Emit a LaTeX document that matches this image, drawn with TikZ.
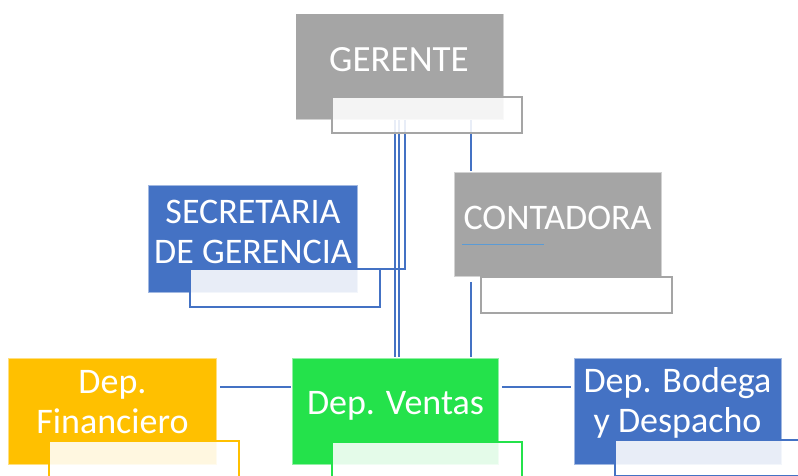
\documentclass[tikz,border=0pt]{standalone}
\usepackage{fontspec}
\setmainfont{Carlito}
\usetikzlibrary{positioning}
\definecolor{gris}{HTML}{A5A5A5}
\definecolor{azul}{HTML}{4472C4}
\definecolor{amarillo}{HTML}{FFC000}
\definecolor{verde}{RGB}{36,226,75}
\definecolor{celeste}{HTML}{5B9BD5}
\tikzset{
	caja/.style={fill=#1, draw=white, draw opacity=0.5, line width=1.5pt, inner sep=0pt},
	subcaja/.style={draw=#1, line width=2.5pt, fill=white, fill opacity=0.88, minimum width=190pt, minimum height=36pt, inner sep=0pt},
	rotulo/.style={text=white, align=center, inner sep=0pt, font=\fontsize{36}{40}\selectfont},
	enlace/.style={draw=azul, line width=2.5pt}
}

\begin{document}
\begin{tikzpicture}[x=1pt, y=-1pt]
		%%%%% START %%%%%
		\useasboundingbox (0, 0) rectangle (798, 475);
		\clip (0, 0) rectangle (798, 475);
		
		% cajas principales
		\node[caja=gris, minimum width=208pt, minimum height=106pt] (gerente) at (399.5, 66.5) {};
		\node[caja=azul, minimum width=210pt, minimum height=108pt] (secretaria) at (253, 239) {};
		\node[caja=gris, minimum width=208pt, minimum height=105pt] (contadora) at (558, 224.5) {};
		\node[caja=amarillo, minimum width=209pt, minimum height=107pt] (financiero) at (112.5, 411.5) {};
		\node[caja=verde, minimum width=207pt, minimum height=107pt] (ventas) at (395.5, 411.5) {};
		\node[caja=azul, minimum width=208pt, minimum height=107pt] (bodega) at (678, 411.5) {};
		
		\node[rotulo, font=\fontsize{37}{40}\selectfont] (gerente-rot) at (399, 60) {GERENTE};
		\node[rotulo] (secretaria-rot) at (253, 232) {SECRETARIA\\DE GERENCIA};
		\node[rotulo] (contadora-rot) at (557.5, 217.5) {CONTADORA};
		\node[rotulo] (financiero-rot) at (112.5, 402) {Dep.\\Financiero};
		\node[rotulo] (ventas-rot) at (395.5, 406) {Dep. Ventas};
		\node[rotulo] (bodega-rot) at (677.5, 403) {Dep. Bodega\\y Despacho};
		
		\draw[celeste, line width=1pt] (462, 244) -- (544, 244);
		
		% enlaces
		\draw[enlace] ([xshift=-4.5pt]gerente.south) -- ([xshift=-4.5pt]gerente.south |- ventas.north);
		\draw[enlace] ([xshift=-0.5pt]gerente.south) -- ([xshift=-0.5pt]gerente.south |- ventas.north);
		\draw[enlace] ([xshift=5.5pt]gerente.south) |- ([yshift=-30pt]secretaria.east);
		\draw[enlace] ([xshift=71.5pt]gerente.south) -- ([xshift=71.5pt]gerente.south |- contadora.north);
		\draw[enlace] ([xshift=-87pt, yshift=-4pt]contadora.south) -- ([xshift=-87pt]contadora.south |- ventas.north);
		\draw[enlace] ([xshift=2pt, yshift=24.5pt]financiero.east) -- ([yshift=24.5pt]ventas.west);
		\draw[enlace] ([xshift=2pt, yshift=24.5pt]ventas.east) -- ([xshift=-2pt, yshift=24.5pt]bodega.west);
		
		% cajas secundarias
		\node[subcaja=gris] (gerente-sub) at (427, 115) {};
		\node[subcaja=azul, minimum height=38pt] (secretaria-sub) at (285, 288) {};
		\node[subcaja=gris, minimum width=191pt] (contadora-sub) at (576.5, 295) {};
		\node[subcaja=amarillo] (financiero-sub) at (144, 459) {};
		\node[subcaja=verde] (ventas-sub) at (427, 460) {};
		\node[subcaja=azul] (bodega-sub) at (710, 458) {};
		%%%%% END %%%%%
\end{tikzpicture}
\end{document}
